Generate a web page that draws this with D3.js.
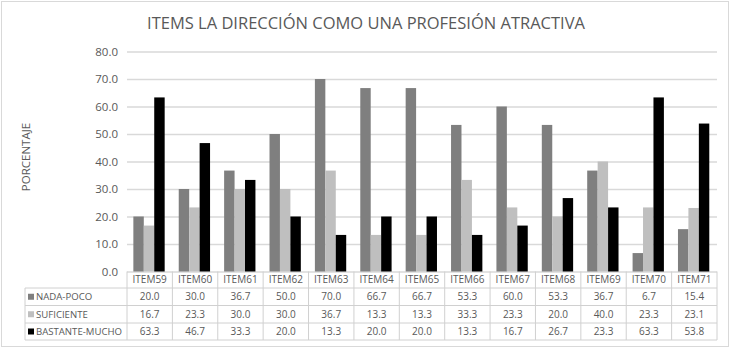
<!DOCTYPE html>
<html><head><meta charset="utf-8">
<script src="https://cdn.jsdelivr.net/npm/d3@7"></script>
<style>body{margin:0;background:#fff}svg{display:block}text{font-family:"Open Sans",sans-serif;fill:#595959}</style>
</head><body>
<script>
const categories = ["ITEM59","ITEM60","ITEM61","ITEM62","ITEM63","ITEM64","ITEM65","ITEM66","ITEM67","ITEM68","ITEM69","ITEM70","ITEM71"];
const seriesNames = ["NADA-POCO","SUFICIENTE","BASTANTE-MUCHO"];
const nadaPoco = [20.0,30.0,36.7,50.0,70.0,66.7,66.7,53.3,60.0,53.3,36.7,6.7,15.4];
const suficiente = [16.7,23.3,30.0,30.0,36.7,13.3,13.3,33.3,23.3,20.0,40.0,23.3,23.1];
const bastanteMucho = [63.3,46.7,33.3,20.0,13.3,20.0,20.0,13.3,16.7,26.7,23.3,63.3,53.8];
const yTicks = [0,10,20,30,40,50,60,70,80];
const colors = ["#7f7f7f","#bfbfbf","#000000"];
const title = "ITEMS LA DIRECCIÓN COMO UNA PROFESIÓN ATRACTIVA";
const yTitle = "PORCENTAJE";

const W = 732, H = 350;
const plot = {l:127, r:717, t:51.5, b:271.5};
const series = [nadaPoco, suficiente, bastanteMucho];

const svg = d3.select("body").append("svg").attr("width",W).attr("height",H);
svg.append("rect").attr("x",1.5).attr("y",1.5).attr("width",727).attr("height",345)
  .attr("fill","#fff").attr("stroke","#d9d9d9");

const x0 = d3.scaleBand().domain(categories).range([plot.l, plot.r]).padding(0);
const bw = x0.bandwidth();
const x1 = d3.scaleBand().domain(d3.range(3)).range([bw*0.14, bw*0.83]).padding(0);
const y = d3.scaleLinear().domain([0,80]).range([plot.b, plot.t]);

// gridlines
const grid = svg.append("g").attr("transform",`translate(${plot.l},0)`)
  .call(d3.axisLeft(y).tickValues(yTicks).tickSize(-(plot.r-plot.l)).tickFormat(""));
grid.select(".domain").remove();
grid.selectAll(".tick line").attr("stroke","#d9d9d9").attr("stroke-width",1.3);

// y axis labels
const ya = svg.append("g").attr("transform",`translate(${plot.l-9},0)`)
  .call(d3.axisLeft(y).tickValues(yTicks).tickSize(0).tickFormat(d3.format(".1f")));
ya.select(".domain").remove();
ya.selectAll("text").attr("font-size","11.5px").attr("fill","#595959").attr("font-family","Open Sans, sans-serif").attr("x",0);

// bars
const groups = svg.append("g").selectAll("g").data(categories).join("g")
  .attr("transform",d=>`translate(${x0(d)},0)`);
groups.selectAll("rect").data((d,i)=>series.map((s,k)=>({k, v:s[i]}))).join("rect")
  .attr("x",d=>x1(d.k)).attr("width",x1.bandwidth())
  .attr("y",d=>y(d.v)).attr("height",d=>y(0)-y(d.v))
  .attr("fill",d=>colors[d.k]);

// title
svg.append("text").attr("x",366).attr("y",29).attr("text-anchor","middle")
  .attr("font-size","16.5px").text(title);
// y title
svg.append("text").attr("transform","translate(30,157) rotate(-90)").attr("text-anchor","middle")
  .attr("font-size","11.5px").text(yTitle);

// data table
const rowsY = [271.5, 288, 305.5, 323, 340];
const lineCol = "#d0d0d0";
const tbl = svg.append("g");
tbl.append("line").attr("x1",plot.l).attr("x2",plot.r).attr("y1",rowsY[1]).attr("y2",rowsY[1]).attr("stroke",lineCol);
[2,3,4].forEach(i=>tbl.append("line").attr("x1",25).attr("x2",plot.r).attr("y1",rowsY[i]).attr("y2",rowsY[i]).attr("stroke",lineCol));
tbl.append("line").attr("x1",25).attr("x2",plot.l).attr("y1",rowsY[1]).attr("y2",rowsY[1]).attr("stroke",lineCol);
tbl.append("line").attr("x1",25).attr("x2",25).attr("y1",rowsY[1]).attr("y2",rowsY[4]).attr("stroke",lineCol);
categories.concat(["_end"]).forEach((c,i)=>{
  const xx = i<categories.length ? x0(c) : plot.r;
  tbl.append("line").attr("x1",xx).attr("x2",xx).attr("y1",rowsY[0]).attr("y2",rowsY[4]).attr("stroke",lineCol);
});
tbl.selectAll("text.h").data(categories).join("text").attr("class","h")
  .attr("x",d=>x0(d)+bw/2).attr("y",(rowsY[0]+rowsY[1])/2).attr("dy","0.35em")
  .attr("text-anchor","middle").attr("font-size","10px").text(d=>d);
seriesNames.forEach((name,k)=>{
  const cy = (rowsY[k+1]+rowsY[k+2])/2;
  tbl.append("rect").attr("x",28).attr("y",cy-3).attr("width",6).attr("height",6).attr("fill",colors[k]);
  tbl.append("text").attr("x",36).attr("y",cy).attr("dy","0.35em").attr("font-size","9.6px").text(name);
  tbl.selectAll("text.v"+k).data(series[k]).join("text").attr("class","v"+k)
    .attr("x",(d,i)=>x0(categories[i])+bw/2).attr("y",cy).attr("dy","0.35em")
    .attr("text-anchor","middle").attr("font-size","10px").text(d=>d3.format(".1f")(d));
});
</script>
</body></html>
